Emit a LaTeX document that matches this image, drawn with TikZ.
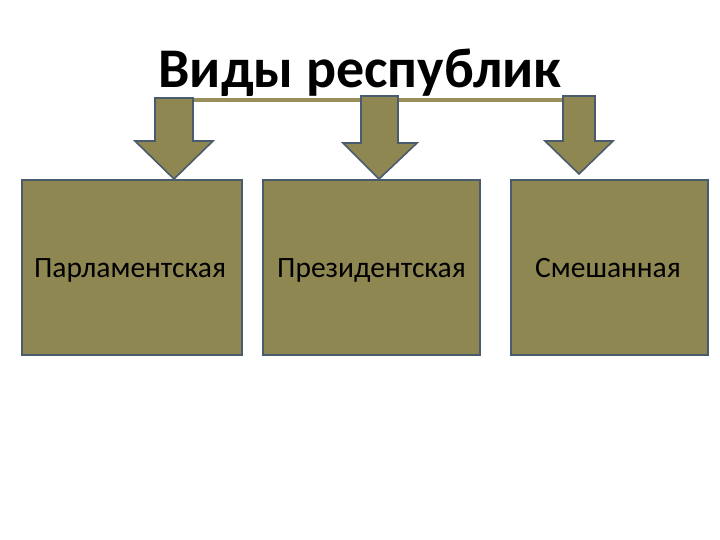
\documentclass[tikz,border=0pt]{standalone}
\usepackage{fontspec}
\setmainfont{Carlito}
\definecolor{olive1}{HTML}{8E8752}
\definecolor{linecol}{HTML}{988F5C}
\definecolor{edgecol}{HTML}{4B5B6E}
\tikzset{
  box/.style={draw=edgecol, line width=2pt, fill=olive1, minimum height=175pt, inner sep=0pt},
  boxtext/.style={anchor=base, inner sep=0pt, font=\fontsize{29.5}{32}\selectfont},
  darrow/.style={draw=edgecol, line width=1.6pt, fill=olive1, line join=miter}
}
\begin{document}
\begin{tikzpicture}[x=1pt,y=-1pt]
\useasboundingbox[fill=white] (0,0) rectangle (720,540);
\node[font=\fontsize{56}{62}\selectfont\bfseries, anchor=base, inner sep=0pt] (title) at (360,88) {Виды республик};
\coordinate (lineL) at (155,100);
\coordinate (lineR) at (563,100);
\draw[linecol, line width=4pt] (lineL) -- (lineR);
% arrows
\draw[darrow] (155,98) -- (193,98) -- (193,141) -- (213,141) -- (174,179) -- (135,141) -- (155,141) -- cycle;
\draw[darrow] (361,96) -- (398,96) -- (398,143) -- (417,143) -- (379,179) -- (343,143) -- (361,143) -- cycle;
\draw[darrow] (563,96) -- (595,96) -- (595,141) -- (613,141) -- (579,174) -- (545,141) -- (563,141) -- cycle;
\node[box, minimum width=220pt] (b1) at (132,267.5) {};
\node[box, minimum width=217pt] (b2) at (371.5,267.5) {};
\node[box, minimum width=197pt] (b3) at (609.5,267.5) {};
\node[boxtext] (t1) at (130,277) {Парламентская};
\node[boxtext] (t2) at (371.5,277) {Президентская};
\node[boxtext] (t3) at (608,277) {Смешанная};
\end{tikzpicture}
\end{document}
